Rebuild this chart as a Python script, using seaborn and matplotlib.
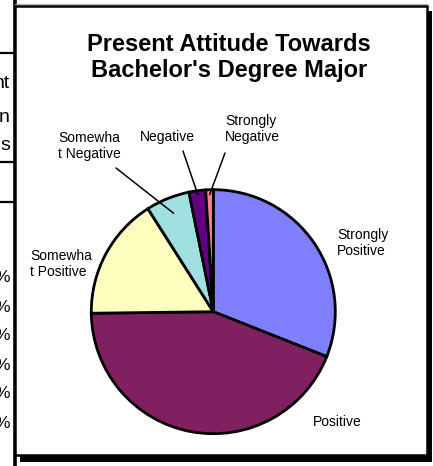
import numpy as np
import matplotlib
matplotlib.use("Agg")
import matplotlib.pyplot as plt
import seaborn as sns
from matplotlib.patches import Rectangle

# ---- data ----
categories = ["Strongly Positive", "Positive", "Somewhat Positive",
              "Somewhat Negative", "Negative", "Strongly Negative"]
label_texts = ["Strongly\nPositive", "Positive", "Somewha\nt Positive",
               "Somewha\nt Negative", "Negative", "Strongly\nNegative"]
shares = [31.0, 43.8, 16.2, 5.8, 2.2, 1.0]
slice_colors = ["#8080FF", "#802060", "#FFFFC0", "#A0E0E0", "#600080", "#FF8080"]
title_text = "Present Attitude Towards\nBachelor's Degree Major"

sns.set_theme(style="white")
plt.rcParams["font.family"] = ["Liberation Sans", "DejaVu Sans"]
plt.rcParams["text.color"] = "black"

W, H = 433, 466
fig = plt.figure(figsize=(W / 100, H / 100), dpi=100)
ax = fig.add_axes([0, 0, 1, 1])

def Y(y):
    return H - y

# spreadsheet remnants on the left (cut off by the picture edge)
for yy in [53, 162, 202]:
    ax.plot([0, 14], [Y(yy), Y(yy)], color="black", lw=1.6, zorder=1,
            solid_capstyle="butt")
ax.plot([15, 15], [Y(0), Y(466)], color="black", lw=2.6, zorder=1)
for txt, yy in [("nt", 83), ("n", 117), ("s", 145)]:
    ax.text(10, Y(yy), txt, ha="right", va="center", fontsize=14, zorder=1)
for yy in [278, 307, 336, 365, 394, 423]:
    ax.text(10, Y(yy), "%", ha="right", va="center", fontsize=12.5, zorder=1)

# chart frame with shadow
ax.plot([15, 427], [Y(4), Y(4)], color="#b0b0b0", lw=0.8, zorder=1)
ax.add_patch(Rectangle((20, Y(462)), 412, 451, facecolor="black",
                       edgecolor="none", zorder=2))
ax.add_patch(Rectangle((15, Y(455)), 412, 449, facecolor="white",
                       edgecolor="black", lw=1.8, zorder=3))

# pie
cx, cy, r = 213.3, Y(311.7), 122
palette = sns.color_palette(slice_colors)
wedges, _ = ax.pie(shares, colors=palette, startangle=90, counterclock=False,
                   center=(cx, cy), radius=r,
                   wedgeprops=dict(edgecolor="black", linewidth=2.0))
for w in wedges:
    w.set_zorder(4)

# labels
label_pos = [(337, 243), (313, 422), (30, 264), (58, 146), (140, 137), (225, 129)]
for txt, (lx, ly) in zip(label_texts, label_pos):
    ax.text(lx, Y(ly), txt, ha="left", va="center", fontsize=10,
            linespacing=1.15, zorder=5)

# leader lines for the small slices
leader_start = {3: (116, 168), 4: (183, 151), 5: (225, 153)}
leader_frac = {3: 0.87, 4: 0.97, 5: 0.96}
for i, (sx, sy) in leader_start.items():
    w = wedges[i]
    mid = np.deg2rad((w.theta1 + w.theta2) / 2)
    ex = cx + leader_frac[i] * r * np.cos(mid)
    ey = cy + leader_frac[i] * r * np.sin(mid)
    ax.plot([sx, ex], [Y(sy), ey], color="black", lw=1.1, zorder=5)

# title
ax.text(229, Y(57.5), title_text, ha="center", va="center", fontsize=17,
        fontweight="bold", linespacing=1.2, zorder=5)

ax.set_xlim(0, W)
ax.set_ylim(0, H)
ax.set_aspect("auto")
ax.axis("off")

fig.savefig("out.png", dpi=100)
